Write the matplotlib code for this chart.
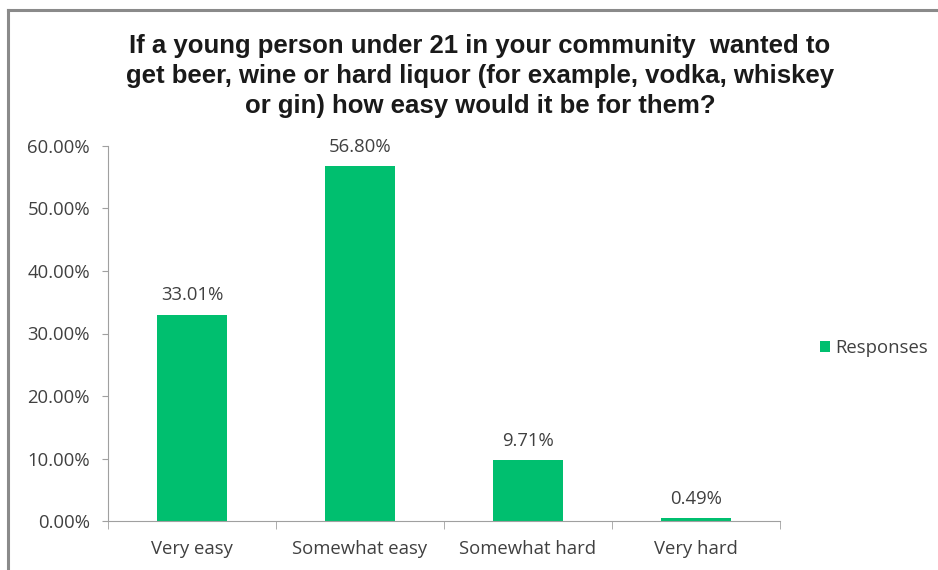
import matplotlib
matplotlib.use("Agg")
import matplotlib.pyplot as plt
from matplotlib.lines import Line2D
from matplotlib.patches import Patch
from matplotlib.ticker import FuncFormatter, FixedLocator

categories = ["Very easy", "Somewhat easy", "Somewhat hard", "Very hard"]
values = [33.01, 56.80, 9.71, 0.49]
series_name = "Responses"
title = ("If a young person under 21 in your community  wanted to\n"
         "get beer, wine or hard liquor (for example, vodka, whiskey\n"
         "or gin) how easy would it be for them?")

W, H = 938, 570
fig = plt.figure(figsize=(W / 100, H / 100), dpi=100)
fig.patch.set_facecolor("white")

# frame lines (top and left)
fig.add_artist(Line2D([8 / W, 1], [1 - 10 / H, 1 - 10 / H], color="#8a8a8a", lw=2.2))
fig.add_artist(Line2D([8 / W, 8 / W], [0, 1 - 10 / H], color="#8a8a8a", lw=2.2))

FONT = ["Open Sans", "DejaVu Sans"]
FS = 13.3
TXT = "#404040"

ax = fig.add_axes([108 / W, 49 / H, (780 - 108) / W, (521 - 146) / H])
green = "#00BF6F"
x = list(range(len(categories)))
bars = ax.bar(x, values, width=0.42, color=green, zorder=2)

ax.set_xlim(-0.5, len(categories) - 0.5)
ax.set_ylim(0, 60)
ax.yaxis.set_major_locator(FixedLocator([0, 10, 20, 30, 40, 50, 60]))
ax.yaxis.set_major_formatter(FuncFormatter(lambda v, p: f"{v:.2f}%"))

ax.set_xticks(x)
ax.set_xticklabels(categories, fontsize=FS, color=TXT, fontfamily=FONT)
ax.tick_params(axis="x", length=0, pad=13.5)
ax.set_xticks([i - 0.5 for i in range(len(categories) + 1)], minor=True)
ax.tick_params(axis="x", which="minor", length=6, color="#a0a0a0", direction="out")
ax.tick_params(axis="y", length=4.5, color="#a0a0a0", direction="out", pad=8.5,
               labelsize=FS, labelcolor=TXT)
for lab in ax.get_yticklabels():
    lab.set_fontfamily(FONT)

for s in ["top", "right"]:
    ax.spines[s].set_visible(False)
ax.spines["left"].set_color("#a0a0a0")
ax.spines["bottom"].set_color("#a0a0a0")

for b, v in zip(bars, values):
    ax.annotate(f"{v:.2f}%", (b.get_x() + b.get_width() / 2, v), xytext=(0, 7.5),
                textcoords="offset points", ha="center", va="bottom",
                fontsize=FS, color=TXT, fontfamily=FONT)

fig.text(480 / W, 1 - 76 / H, title, ha="center", va="center", fontsize=18.5,
         fontweight="bold", color="#1a1a1a", linespacing=1.33,
         fontfamily=["Liberation Sans", "DejaVu Sans"])

leg = fig.legend(handles=[Patch(facecolor=green, label=series_name)],
                 loc="center left", bbox_to_anchor=(803 / W, 1 - 348 / H),
                 frameon=False, handlelength=0.55, handleheight=0.55,
                 handletextpad=0.3, prop={"family": FONT, "size": FS})
for t in leg.get_texts():
    t.set_color(TXT)

fig.savefig("out.png", dpi=100, facecolor="white")
